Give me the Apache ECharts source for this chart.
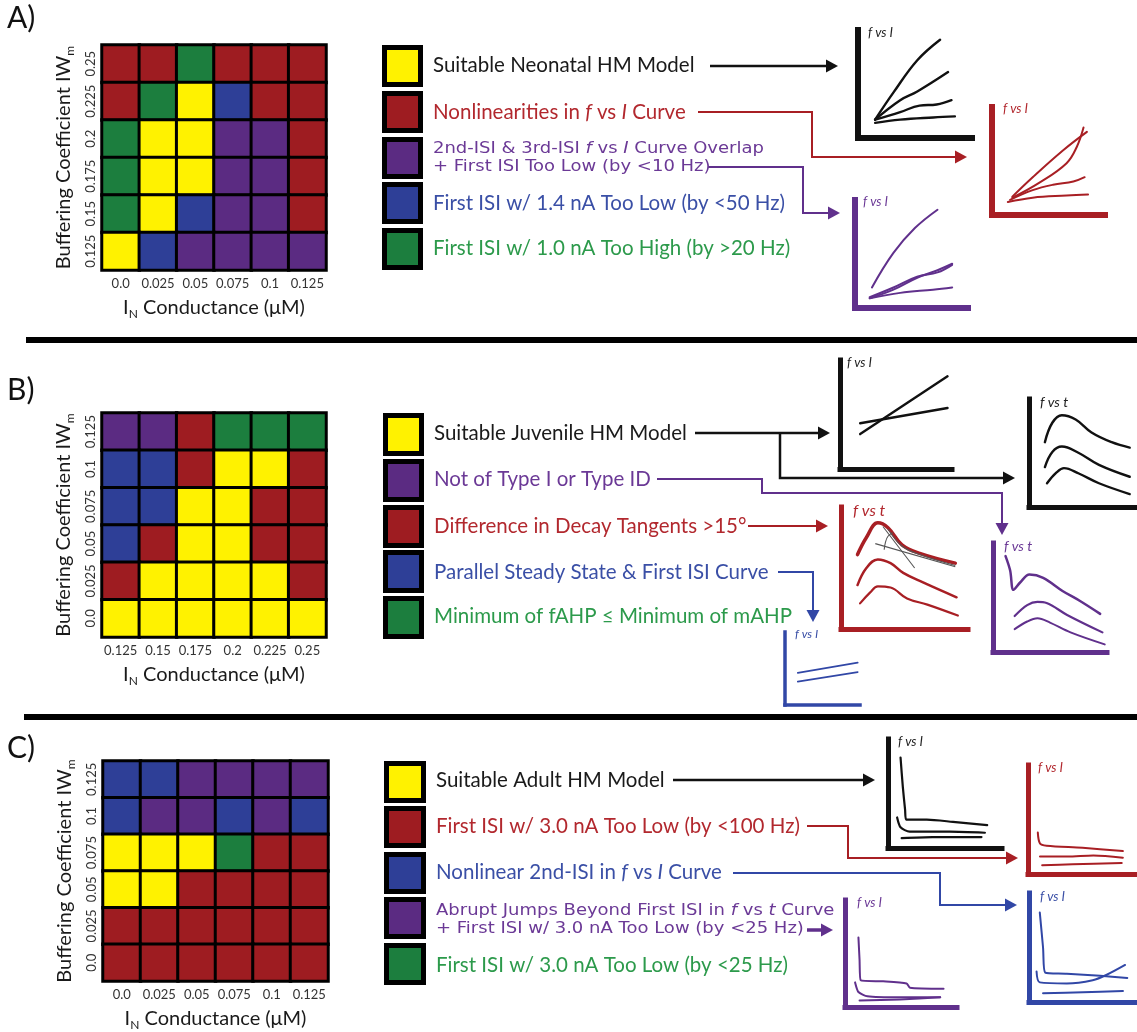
<!DOCTYPE html>
<html>
<head>
<meta charset="utf-8">
<script src="https://cdn.jsdelivr.net/npm/echarts@6/dist/echarts.min.js"></script>
<style>
  html, body { margin: 0; padding: 0; background: #fff; }
  #chart { width: 1137px; height: 1032px; }
</style>
</head>
<body>
<div id="chart"></div>
<script>
// ---------------- Parameter-sweep grids ----------------
// Cell letters: Y suitable, R red, P purple, B blue, G green.
// Rows are listed from the top row (largest IWm) down to the bottom row.
const neonatalX = ['0.0', '0.025', '0.05', '0.075', '0.1', '0.125'];
const neonatalY = ['0.125', '0.15', '0.175', '0.2', '0.225', '0.25'];
const neonatalCells = ['RRGRRR', 'RGYBRR', 'GYYPPR', 'GYYPPR', 'GYBPPR', 'YBPPPP'];

const juvenileX = ['0.125', '0.15', '0.175', '0.2', '0.225', '0.25'];
const juvenileY = ['0.0', '0.025', '0.05', '0.075', '0.1', '0.125'];
const juvenileCells = ['PPRGGG', 'BBRYYR', 'BBYYRR', 'BRYYRR', 'RYYYYR', 'YYYYYY'];

const adultX = ['0.0', '0.025', '0.05', '0.075', '0.1', '0.125'];
const adultY = ['0.0', '0.025', '0.05', '0.075', '0.1', '0.125'];
const adultCells = ['BBPPPP', 'BPPBPB', 'YYYGRR', 'YYRRRR', 'RRRRRR', 'RRRRRR'];

// ---------------- Legend entries ----------------
// [f] and [I] / [t] mark italic symbols.
const neonatalLegend = [
  'Suitable Neonatal HM Model',
  'Nonlinearities in [f] vs [I] Curve',
  '2nd-ISI & 3rd-ISI [f] vs [I] Curve Overlap\n+ First ISI Too Low (by <10 Hz)',
  'First ISI w/ 1.4 nA Too Low (by <50 Hz)',
  'First ISI w/ 1.0 nA Too High (by >20 Hz)'
];
const neonatalLegendCodes = ['Y', 'R', 'P', 'B', 'G'];

const juvenileLegend = [
  'Suitable Juvenile HM Model',
  'Not of Type I or Type ID',
  'Difference in Decay Tangents >15°',
  'Parallel Steady State & First ISI Curve',
  'Minimum of fAHP ≤ Minimum of mAHP'
];
const juvenileLegendCodes = ['Y', 'P', 'R', 'B', 'G'];

const adultLegend = [
  'Suitable Adult HM Model',
  'First ISI w/ 3.0 nA Too Low (by <100 Hz)',
  'Nonlinear 2nd-ISI in [f] vs [I] Curve',
  'Abrupt Jumps Beyond First ISI in [f] vs [t] Curve\n+ First ISI w/ 3.0 nA Too Low (by <25 Hz)',
  'First ISI w/ 3.0 nA Too Low (by <25 Hz)'
];
const adultLegendCodes = ['Y', 'R', 'B', 'P', 'G'];

// ---------------- Schematic curves (normalised 0-100 units) ----------------
const neoSuitableFI = [
  [[15, 17], [31, 42], [52, 72], [72, 91]],
  [[15, 17], [37, 35], [52, 43], [79, 61]],
  [[15, 17], [37, 24], [54, 30], [69, 31], [82, 35]],
  [[15, 14], [37, 17], [66, 19], [85, 20]]
];
const neoNonlinearFI = [
  [[18, 17], [36, 35], [63, 60], [84, 77]],
  [[18, 16], [42, 30], [66, 48], [75, 63], [81, 81]],
  [[16, 14], [36, 23], [54, 28], [72, 31], [82, 35]],
  [[14, 12], [36, 16], [66, 18], [85, 19]]
];
const neoOverlapFI = [
  [[15, 19], [34, 51], [53, 74], [73, 91]],
  [[13, 10], [34, 19], [55, 29], [73, 33], [86, 40]],
  [[13, 9], [34, 17], [55, 28], [73, 35], [86, 41]],
  [[13, 9], [40, 14], [69, 17], [86, 19]]
];

const juvSuitableFI = [
  [[18, 32], [96, 85]],
  [[18, 42], [96, 56]]
];
const juvSuitableFT = [
  [[15, 60], [22, 78], [31, 85], [44, 81], [59, 69], [78, 60], [95, 55]],
  [[15, 37], [22, 51], [31, 56], [47, 50], [66, 39], [95, 28]],
  [[17, 22], [26, 32], [33, 36], [47, 31], [66, 22], [95, 12]]
];
const juvTangentFT = [
  [[13, 61], [20, 75], [29, 87], [37, 83], [48, 69], [62, 62], [90, 54]],
  [[13, 36], [20, 50], [29, 57], [39, 54], [49, 46], [65, 38], [91, 26]],
  [[15, 21], [23, 30], [29, 35], [39, 34], [52, 25], [68, 20], [92, 11]]
];
const juvTangentGuides = [
  [[27, 70], [90, 51]],
  [[33, 84], [58, 50]],
  [[34, 65], [35, 71], [37, 76], [41, 79]],
  [[37, 82], [48, 68], [62, 61], [90, 52]]
];
const juvTypeFT = [
  [[11, 88], [15, 75], [18, 57], [24, 64], [32, 71], [44, 68], [61, 56], [76, 47], [94, 35]],
  [[19, 33], [30, 43], [39, 46], [47, 45], [65, 34], [96, 18]],
  [[19, 21], [30, 28], [39, 31], [50, 27], [68, 18], [98, 7]]
];
const juvParallelFI = [
  [[17, 44], [97, 58]],
  [[17, 32], [97, 45]]
];

const adultSuitableFI = [
  [[11, 83], [13, 56], [15, 35], [16, 26], [34, 26], [57, 24], [87, 21]],
  [[8, 28], [11, 19], [19, 15], [54, 15], [85, 14]],
  [[12, 9], [39, 10], [82, 10]]
];
const adultLowFI = [
  [[9, 38], [11, 28], [17, 26], [50, 24], [87, 21]],
  [[11, 16], [36, 16], [60, 17], [87, 15]],
  [[13, 8], [41, 9], [86, 10]]
];
const adultJumpFI = [
  [[12, 65], [13, 44], [14, 25], [34, 24], [55, 22], [58, 18], [88, 17]],
  [[9, 23], [12, 14], [20, 10], [49, 9], [85, 9]],
  [[13, 6], [49, 7], [85, 9]]
];
const adultNonlinFI = [
  [[10, 82], [13, 50], [15, 27], [35, 26], [66, 24], [91, 22]],
  [[7, 28], [10, 18], [35, 17], [59, 20], [72, 25], [89, 34]],
  [[13, 8], [50, 9], [87, 10]]
];

// ---------------- Styling ----------------
const CODE = { Y: 0, R: 1, P: 2, B: 3, G: 4 };
const CELL_COLORS = ['#FFF200', '#9E1C21', '#5B2B82', '#2E3F97', '#1C7E3E'];
const TEXT_COLORS = { Y: '#1a1a1a', R: '#B2282E', P: '#6B3996', B: '#3A4FA6', G: '#2C9A4B' };
const INK = { k: '#111111', r: '#A81F24', p: '#60308C', b: '#3147A6' };
const SANS = 'Lato, "Open Sans", sans-serif';
const WIDE = '"DejaVu Sans", Verdana, sans-serif';

function cellsToData(rows) {
  const out = [];
  rows.forEach((row, ri) => {
    row.split('').forEach((ch, ci) => out.push([ci, rows.length - 1 - ri, CODE[ch]]));
  });
  return out;
}

const grids = [], xAxes = [], yAxes = [], series = [], graphics = [];

// ---- heatmap panels ----
function addHeatmap(box, xCats, yCats, rows) {
  const gi = grids.length;
  grids.push({ left: box[0], top: box[1], width: box[2], height: box[3], show: true,
               backgroundColor: '#000', borderWidth: 0 });
  const tick = { fontSize: 13, fontFamily: SANS, color: '#333', interval: 0 };
  xAxes.push({
    type: 'category', gridIndex: gi, data: xCats,
    axisLine: { show: false }, axisTick: { show: false }, splitLine: { show: false },
    axisLabel: Object.assign({ margin: 7 }, tick),
    name: '{t|I}{s|N}{t| Conductance (μM)}', nameLocation: 'middle', nameGap: 25,
    nameTextStyle: { rich: {
      t: { fontSize: 20, fontFamily: SANS, color: '#1a1a1a' },
      s: { fontSize: 12, fontFamily: SANS, color: '#1a1a1a', padding: [13, 0, 0, 0] } } }
  });
  yAxes.push({
    type: 'category', gridIndex: gi, data: yCats,
    axisLine: { show: false }, axisTick: { show: false }, splitLine: { show: false },
    axisLabel: Object.assign({ margin: 5, rotate: 90 }, tick),
    name: '{t|Buffering Coefficient IW}{s|m}', nameLocation: 'middle', nameGap: 26, nameRotate: 90,
    nameTextStyle: { rich: {
      t: { fontSize: 20, fontFamily: SANS, color: '#1a1a1a' },
      s: { fontSize: 12, fontFamily: SANS, color: '#1a1a1a', padding: [13, 0, 0, 0] } } }
  });
  series.push({
    type: 'heatmap', xAxisIndex: gi, yAxisIndex: gi, data: cellsToData(rows),
    itemStyle: { borderColor: '#000', borderWidth: 3 }, silent: true, animation: false
  });
}

addHeatmap([102, 45, 224, 225], neonatalX, neonatalY, neonatalCells);
addHeatmap([102, 413, 224, 224], juvenileX, juvenileY, juvenileCells);
addHeatmap([103, 761, 225, 224], adultX, adultY, adultCells);

// ---- sketch plots ----
function addSketch(box, color, axisWidth, curves, lineWidth, smooth, extra) {
  const gi = grids.length;
  grids.push({ left: box[0], top: box[1], width: box[2], height: box[3] });
  const axisLine = { show: true, onZero: false, lineStyle: { color: color, width: axisWidth, cap: 'square' } };
  const base = { type: 'value', gridIndex: gi, min: 0, max: 100, axisLine: axisLine,
                 axisTick: { show: false }, axisLabel: { show: false }, splitLine: { show: false } };
  xAxes.push(Object.assign({}, base));
  yAxes.push(Object.assign({}, base));
  curves.forEach((c, k) => {
    const w = Array.isArray(lineWidth) ? lineWidth[k] : lineWidth;
    series.push({ type: 'line', xAxisIndex: gi, yAxisIndex: gi, data: c, showSymbol: false,
      smooth: smooth, lineStyle: { color: color, width: w, cap: 'round', join: 'round' },
      silent: true, animation: false, z: 3 });
  });
  if (extra) {
    extra.curves.forEach(c => series.push({ type: 'line', xAxisIndex: gi, yAxisIndex: gi, data: c,
      showSymbol: false, smooth: 0.4, lineStyle: { color: extra.color, width: extra.width },
      silent: true, animation: false, z: 4 }));
  }
}

addSketch([858, 30, 114, 108], INK.k, 6, neoSuitableFI, 2.4, 0.4);
addSketch([992, 107, 113, 108], INK.r, 6, neoNonlinearFI, 2, 0.4);
addSketch([855, 200, 113, 108], INK.p, 6, neoOverlapFI, 2, 0.4);

addSketch([840, 360, 112, 109], INK.k, 5, juvSuitableFI, 2.4, false);
addSketch([1029, 399, 106, 108], INK.k, 5, juvSuitableFT, 2.4, 0.4);
addSketch([841, 507, 127, 122], INK.r, 5, juvTangentFT, [3.5, 2.5, 2.2], 0.4,
          { curves: juvTangentGuides, color: '#555', width: 1.1 });
addSketch([993, 543, 114, 109], INK.p, 5, juvTypeFT, [2.5, 2.2, 2], 0.35);
addSketch([785, 632, 75, 73], INK.b, 3.5, juvParallelFI, 1.6, false);

addSketch([888, 739, 114, 109], INK.k, 5, adultSuitableFI, 2.2, 0.25);
addSketch([1028, 765, 109, 109], INK.r, 5, adultLowFI, 2, 0.3);
addSketch([845, 900, 112, 107], INK.p, 5, adultJumpFI, 2, 0.2);
addSketch([1029, 893, 108, 109], INK.b, 5, adultNonlinFI, 2, 0.3);

// ---------------- Annotation layer ----------------
function richText(x, y, str, color, size, family, lineHeight, stretch, allItalic) {
  const lh = lineHeight || Math.round(size * 1.25);
  const tokens = str.split('\n').map(line => line.split(/(\[[^\]]+\])/).filter(s => s.length)
      .map(p => p[0] === '[' ? '{i|' + p.slice(1, -1) + '}' : '{n|' + p + '}').join(''));
  return {
    type: 'text', silent: true, z: 10, x: x, y: y, scaleX: stretch || 1, originX: 0, originY: 0,
    style: {
      x: 0, y: 0, text: tokens.join('\n'),
      textAlign: 'left', textVerticalAlign: 'middle', align: 'left', verticalAlign: 'middle',
      rich: {
        n: { fill: color, fontSize: size, fontFamily: family, lineHeight: lh,
             fontStyle: allItalic ? 'italic' : 'normal' },
        i: { fill: color, fontSize: size, fontFamily: family, fontStyle: 'italic', lineHeight: lh }
      }
    }
  };
}

function legendBlock(x, ys, w, h, codes, texts, textX, textYs, wideIdx) {
  codes.forEach((c, k) => {
    graphics.push({ type: 'rect', silent: true, z: 10, shape: { x: x, y: ys[k], width: w, height: h },
                    style: { fill: '#000' } });
    graphics.push({ type: 'rect', silent: true, z: 11, shape: { x: x + 5, y: ys[k] + 5, width: w - 10, height: h - 10 },
                    style: { fill: CELL_COLORS[CODE[c]] } });
    if (k === wideIdx) {
      graphics.push(richText(textX, textYs[k], texts[k], TEXT_COLORS[c], 15, WIDE, 18, 1.2));
    } else {
      graphics.push(richText(textX, textYs[k], texts[k], TEXT_COLORS[c], 20.5, SANS));
    }
  });
}

legendBlock(382, [45, 91, 137, 182, 228], 41, 42, neonatalLegendCodes, neonatalLegend, 433, [65, 112, 158, 203, 248], 2);
legendBlock(383, [413, 459, 505, 550, 596], 41, 43, juvenileLegendCodes, juvenileLegend, 434, [433, 479, 526, 572, 616], -1);
legendBlock(384, [761, 806, 852, 897, 943], 42, 42, adultLegendCodes, adultLegend, 436, [780, 826, 872, 920, 965], 3);

function arrow(pts, color, lw, head, hw) {
  head = head || 12; hw = hw || 6.5;
  const [x1, y1] = pts[pts.length - 2], [x2, y2] = pts[pts.length - 1];
  const L = Math.hypot(x2 - x1, y2 - y1), ux = (x2 - x1) / L, uy = (y2 - y1) / L;
  const bx = x2 - ux * head, by = y2 - uy * head;
  const line = pts.slice(0, -1).concat([[bx + ux, by + uy]]);
  graphics.push({ type: 'polyline', silent: true, z: 9, shape: { points: line },
                  style: { stroke: color, lineWidth: lw, fill: null, lineJoin: 'miter' } });
  graphics.push({ type: 'polygon', silent: true, z: 9,
                  shape: { points: [[x2, y2], [bx - uy * hw, by + ux * hw], [bx + uy * hw, by - ux * hw]] },
                  style: { fill: color } });
}

// panel A
arrow([[710, 66], [838, 66]], INK.k, 2.5);
arrow([[698, 112], [812, 112], [812, 157], [967, 157]], INK.r, 2);
arrow([[708, 167], [803, 167], [803, 213], [840, 213]], INK.p, 2);
// panel B
arrow([[695, 433], [830, 433]], INK.k, 2.5);
arrow([[780, 433], [780, 478], [1015, 478]], INK.k, 2.5);
arrow([[657, 479], [762, 479], [762, 493], [1002, 493], [1002, 535]], INK.p, 2);
arrow([[748, 526], [828, 526]], INK.r, 2.2);
arrow([[778, 572], [813, 572], [813, 622]], INK.b, 2);
// panel C
arrow([[673, 780], [875, 780]], INK.k, 2.5);
arrow([[807, 826], [848, 826], [848, 858], [1018, 858]], INK.r, 2);
arrow([[733, 873], [940, 873], [940, 905], [1017, 905]], INK.b, 2);
arrow([[807, 930], [833, 930]], INK.p, 3.5);

// sketch titles (all italic)
const fvsI = 'f vs I', fvst = 'f vs t';
[
  [868, 33, fvsI, '#222', 13], [1003, 109, fvsI, TEXT_COLORS.R, 13], [863, 202, fvsI, TEXT_COLORS.P, 13],
  [847, 363, fvsI, '#222', 13], [1040, 402, fvst, '#222', 14], [853, 511, fvst, TEXT_COLORS.R, 16],
  [1004, 546, fvst, TEXT_COLORS.P, 14], [795, 634, fvsI, TEXT_COLORS.B, 12],
  [898, 742, fvsI, '#222', 13], [1038, 768, fvsI, TEXT_COLORS.R, 13], [857, 903, fvsI, TEXT_COLORS.P, 13],
  [1040, 897, fvsI, TEXT_COLORS.B, 13]
].forEach(t => graphics.push(richText(t[0], t[1], t[2], t[3], t[4], SANS, null, 1, true)));

// panel letters
[['A)', 18], ['B)', 390], ['C)', 748]].forEach(p => graphics.push({
  type: 'text', silent: true, z: 10,
  style: { x: 7, y: p[1], text: p[0], fill: '#111', font: '30px ' + SANS,
           textAlign: 'left', textVerticalAlign: 'middle', align: 'left', verticalAlign: 'middle' }
}));

// panel separators
graphics.push({ type: 'rect', silent: true, shape: { x: 26, y: 337, width: 1111, height: 6 }, style: { fill: '#000' } });
graphics.push({ type: 'rect', silent: true, shape: { x: 24, y: 714, width: 1113, height: 6 }, style: { fill: '#000' } });

const chart = echarts.init(document.getElementById('chart'), null, { renderer: 'canvas' });
chart.setOption({
  animation: false,
  backgroundColor: '#fff',
  grid: grids,
  xAxis: xAxes,
  yAxis: yAxes,
  visualMap: {
    type: 'piecewise', show: false, dimension: 2, seriesIndex: [0, 1, 2],
    pieces: CELL_COLORS.map((c, i) => ({ value: i, color: c }))
  },
  series: series,
  graphic: { elements: graphics }
});
</script>
</body>
</html>
